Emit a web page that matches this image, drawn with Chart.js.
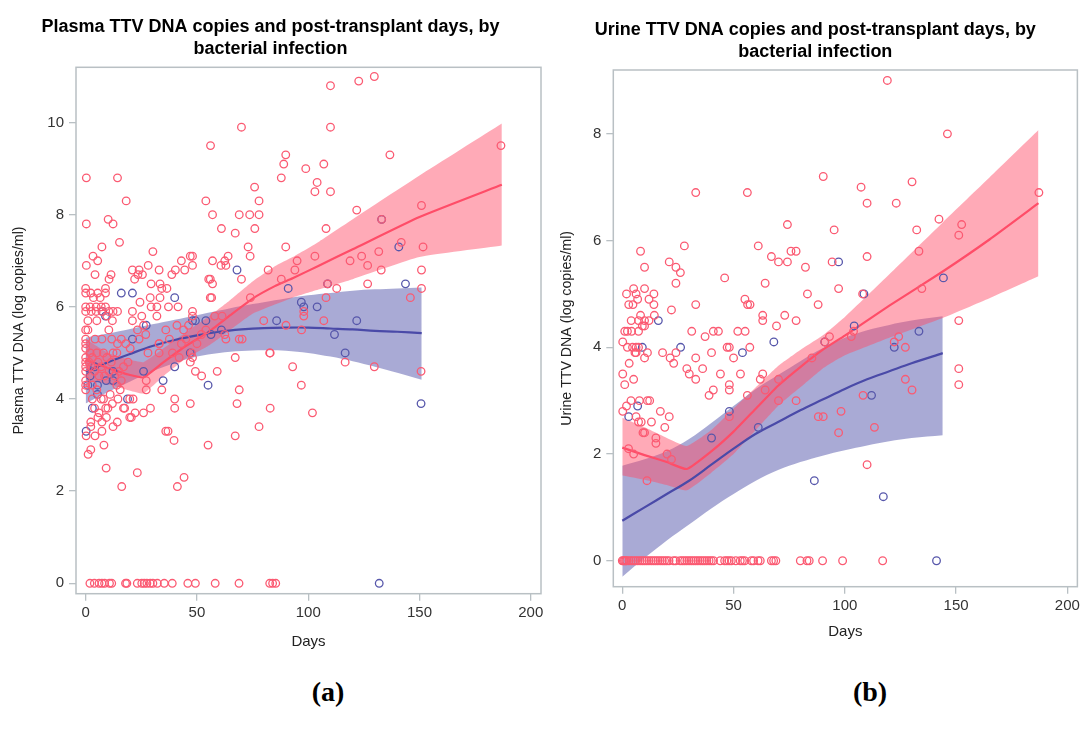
<!DOCTYPE html>
<html>
<head>
<meta charset="utf-8">
<script src="https://cdn.jsdelivr.net/npm/chart.js@4.4.1/dist/chart.umd.min.js"></script>
<style>
  html, body { margin: 0; padding: 0; background: #fff; }
  body { width: 1083px; height: 731px; position: relative; overflow: hidden; }
  canvas { position: absolute; top: 0; }
  #cA { left: 0; }
  #cB { left: 553px; }
  .lab { position: absolute; font-family: "Liberation Serif", "Times New Roman", serif; font-weight: bold; font-size: 28px; color: #000; transform: translate(-50%, -50%); top: 692px; }
</style>
</head>
<body>
<canvas id="cA" width="548" height="660"></canvas>
<canvas id="cB" width="530" height="660"></canvas>
<div class="lab" style="left:328px">(a)</div>
<div class="lab" style="left:870px">(b)</div>
<script>
// ---------------- DATA ----------------
const xTickValues = [0, 50, 100, 150, 200];
const plasmaYTicks = [0, 2, 4, 6, 8, 10];
const urineYTicks = [0, 2, 4, 6, 8];

// Plasma: no bacterial infection (red) [days, log copies/ml]
const plasmaNoInfection = [
  [0.3,8.8],[0.3,7.8],[14.3,8.8],[18.2,8.3],[10.1,7.9],[12.3,7.8],[15.2,7.4],[7.3,7.3],[3.3,7.1],[5.4,7.0],
  [0.3,6.9],[4.2,6.7],[11.4,6.7],[10.5,6.6],[0,6.4],[0,6.3],[2.3,6.3],[5.4,6.3],[8.9,6.3],[8.9,6.4],[6.5,6.2],[3.5,6.2],
  [0,6.0],[2,6.0],[4.7,6.0],[7,6.0],[8.9,6.0],
  [0,5.9],[2.5,5.9],[4.7,5.9],[7.3,5.9],[10.4,5.9],[12.3,5.9],[14.3,5.9],
  [1,5.7],[5,5.7],[9.5,5.8],[12,5.7],[0,5.5],[1,5.5],[10.4,5.5],
  [0,5.3],[0,5.2],[4.2,5.3],[7.3,5.3],[11.7,5.3],[14.3,5.2],[12.3,5.0],[14,5.0],
  [0,5.1],[2,5.0],[5,5.0],[8,5.0],
  [0,4.9],[0,4.8],[0,4.7],[0,4.6],[0,4.4],[0,4.3],[0,4.2],[1.5,4.8],[2.5,4.7],[3,4.9],[4,4.6],[5.5,4.8],[6,4.5],[7,4.7],
  [8.5,4.5],[9.5,4.9],[10.5,4.6],[11.5,4.8],[13,4.5],[14,4.3],[15,4.6],[16,4.4],[17,4.7],[19,4.8],[3,4.3],[5,4.2],
  [7,4.0],[8,4.0],[11,4.1],[12,3.9],[14.5,4.0],[15.5,4.2],[9,3.8],[10,3.8],[4,3.8],[5.5,3.6],[6,3.7],[3,4.0],
  [29.1,3.8],[26,3.7],[22.2,3.7],[19.8,3.6],[20.5,3.6],[19.8,4.0],[21.3,4.0],[17,3.8],[17.5,3.8],[14.2,3.5],[12.3,3.4],
  [9.3,3.6],[7.3,3.5],[7.3,3.3],[4.2,3.2],[2.3,3.5],[2.3,3.4],[0.2,3.2],[2.3,2.9],[1.1,2.8],[8.2,3.0],[9.2,2.5],
  [16.2,2.1],[23.2,2.4],[44.2,2.3],[41.2,2.1],[55,3.0],[67.2,3.2],[77.9,3.4],[68,3.9],[69,4.2],[67.2,4.9],[82.9,3.8],
  [82.9,5.0],[93,4.7],[96.9,4.3],[101.9,3.7],[116.6,4.8],[129.7,4.7],[150.7,4.6],[49.3,4.6],[52.1,4.5],[59.1,4.6],
  [47,3.9],[40,4.0],[40,3.8],[39.7,3.1],[36,3.3],[37,3.3],[34.2,4.2],[27.2,4.2],[27.2,4.4],[33,5.0],[33,5.2],
  [47,4.8],[47.5,5.0],[48,4.9],[39,5.0],[42,4.9],[45,5.3],
  [30.2,7.2],[28.1,6.9],[21,6.8],[24,6.8],[25.5,6.7],[23.5,6.7],[22,6.6],[29.4,6.5],[33,6.8],[33.4,6.5],[34.2,6.4],
  [36.5,6.4],[38.7,6.7],[40.3,6.8],[43,7.0],[47,7.1],[48,7.1],[48,6.9],[44.5,6.8],[54,8.3],[56.1,9.5],[57,8.0],
  [56,6.6],[55.3,6.6],[57,6.5],[57,7.0],[56,6.2],[56.6,6.2],[61,7.7],[60.8,6.9],[62.5,7.0],[63,6.9],[64,7.1],
  [67.2,7.6],[70,9.9],[69,8.0],[73.7,8.0],[75.9,8.6],[77.9,8.3],[77.9,8.0],[76,7.7],[73,7.3],[73.9,7.1],[70,6.6],
  [82,6.8],[74,6.2],[87.9,8.8],[89,9.1],[89.9,9.3],[89.9,7.3],[87.9,6.6],[94,6.8],[95,7.0],[98.9,9.0],[103,8.5],
  [104,8.7],[107,9.1],[110,10.8],[110,9.9],[110,8.5],[108,7.7],[103,7.1],[108,6.2],[108.7,6.5],[112.8,6.4],
  [122.7,10.9],[129.7,11.0],[121.8,8.1],[136.7,9.3],[118.8,7.0],[124,7.1],[126.7,6.9],[126.7,6.5],[131.7,7.2],
  [132.8,6.8],[133,7.9],[141.8,7.4],[150.9,8.2],[151.6,7.3],[150.9,6.8],[150.9,6.4],[145.9,6.2],[186.6,9.5],
  [80,5.7],[107,5.7],[97,5.5],[98,5.9],[98,5.8],[90,5.6],[82.7,5.0],[61.3,5.8],[62.5,5.4],[63,5.3],[69,5.3],[70.3,5.3],
  [21,5.9],[24.4,6.1],[25.2,5.8],[29,6.2],[33.4,6.2],[29.4,6.0],[32,6.0],[37.2,6.0],[41.5,6.0],[32,5.8],[21,5.7],
  [23.3,5.5],[41,5.6],[37.6,5.3],[33,5.2],[27,5.4],[48,5.9],[48,5.8],[46.2,5.6],[52,5.4],[18,5.2],[16,5.3],[20,5.1],
  [24,5.3],[26,5.6],[28,5.0],[36,5.5],[43,5.2],[44,5.5],[50,5.2],[54,5.5],[58,5.8],
  [1.9,0],[3.9,0],[6,0],[7.3,0],[8.5,0],[10.7,0],[11.7,0],[17.9,0],[18.5,0],[23.2,0],[25.2,0],[26.3,0],[27.5,0],
  [29,0],[30.2,0],[32.2,0],[35.3,0],[38.9,0],[45.9,0],[49.3,0],[58.2,0],[68.9,0],[82.7,0],[84,0],[85.4,0]
];
// Plasma: bacterial infection (blue)
const plasmaInfection = [
  [0.2,3.3],[3,3.8],[5.3,4.3],[5.3,4.1],[9.2,4.4],[12.3,4.4],[12.3,4.6],[18.8,4.0],[26,4.6],[34.8,4.4],[40,4.7],
  [47,5.0],[55,4.3],[150.7,3.9],[116.6,5.0],[131.9,0],[16,6.3],[21,6.3],[40,6.2],[27.2,5.6],[48,5.7],[49.3,5.7],
  [54,5.7],[61,5.5],[56.3,5.4],[21,5.3],[8.9,5.8],[7.6,5.9],[68,6.8],[91,6.4],[96.9,6.1],[98,6.0],[104,6.0],
  [85.8,5.7],[121.8,5.7],[111.8,5.4],[108.7,6.5],[133,7.9],[140.7,7.3],[143.7,6.5],[2,4.5],[4,4.7],[1,4.3]
];
// Plasma fitted curves
const plasmaRedDays  = [0, 10, 20, 26, 35, 45, 55, 65, 75, 85, 93, 105, 120, 150, 187];
const plasmaRedFit   = [4.85, 4.67, 4.52, 4.47, 4.8, 5.15, 5.45, 5.82, 6.18, 6.45, 6.62, 6.9, 7.25, 7.95, 8.65];
const plasmaRedUpper = [5.3, 5.0, 4.85, 4.8, 5.1, 5.45, 5.78, 6.15, 6.55, 6.88, 7.08, 7.42, 7.9, 8.85, 9.98];
const plasmaRedLower = [4.4, 4.32, 4.18, 4.12, 4.5, 4.88, 5.15, 5.5, 5.85, 6.05, 6.2, 6.38, 6.6, 7.08, 7.33];
const plasmaBlueDays  = [0, 10, 20, 30, 40, 50, 60, 70, 80, 90, 100, 110, 120, 130, 140, 151];
const plasmaBlueFit   = [4.6, 4.8, 4.98, 5.15, 5.28, 5.38, 5.46, 5.51, 5.54, 5.55, 5.55, 5.53, 5.51, 5.48, 5.46, 5.43];
const plasmaBlueUpper = [5.33, 5.42, 5.52, 5.62, 5.72, 5.82, 5.92, 6.02, 6.1, 6.18, 6.25, 6.3, 6.35, 6.38, 6.4, 6.42];
const plasmaBlueLower = [3.9, 4.15, 4.38, 4.6, 4.78, 4.92, 5.0, 5.04, 5.06, 5.05, 5.0, 4.92, 4.82, 4.7, 4.57, 4.42];

// Urine: no bacterial infection (red)
const urineNoInfection = [
  [119.1,9.0],[146.1,8.0],[90.3,7.2],[130.2,7.1],[107.3,7.0],[33.0,6.9],[56.2,6.9],[187.2,6.9],[110.0,6.7],[123.1,6.7],
  [74.2,6.3],[152.5,6.3],[142.3,6.4],[95.2,6.2],[132.3,6.2],[151.2,6.1],[8.2,5.8],[27.9,5.9],[61.1,5.9],[75.8,5.8],
  [78.1,5.8],[133.3,5.8],[10.0,5.5],[21.1,5.6],[24.1,5.5],[26.1,5.4],[24.1,5.2],[46.0,5.3],[67.0,5.7],[70.2,5.6],
  [74.2,5.6],[82.3,5.5],[94.3,5.6],[110.0,5.7],[97.2,5.1],[64.2,5.2],[83.2,5.0],[88.0,4.8],[108.0,5.0],[134.6,5.1],
  [1.9,5.0],[5.1,5.1],[6.2,5.0],[10.0,5.1],[14.2,5.0],[2.9,4.8],[4.8,4.8],[6.9,4.9],[12.0,4.9],[14.2,4.8],[8.2,4.6],
  [10.0,4.5],[14.4,4.6],[4.0,4.5],[7.3,4.5],[12.0,4.5],[22.1,4.7],[33.0,4.8],[31.2,4.3],[37.2,4.2],[40.9,4.3],
  [43.2,4.3],[51.9,4.3],[55.2,4.3],[55.1,4.9],[56.3,4.8],[57.4,4.8],[63.1,4.5],[63.1,4.6],[69.3,4.4],[73.0,4.6],
  [78.1,4.5],[151.2,4.5],[124.2,4.2],[93.1,4.2],
  [0.2,4.1],[2.3,4.0],[4.6,4.0],[6.2,4.0],[7.3,4.0],[1.1,4.3],[2.3,4.3],[4.2,4.3],[7.3,4.3],[10.0,4.4],[9.0,4.4],
  [3.1,3.7],[5.7,3.9],[6.2,3.9],[11.3,3.9],[10.0,3.8],[0.2,3.5],[5.1,3.4],[1.1,3.3],[0.2,2.8],[1.9,2.9],[3.9,3.0],
  [7.7,3.0],[11.3,3.0],[12.3,3.0],[6.2,2.7],[7.3,2.6],[8.5,2.6],[9.3,2.4],[10.0,2.4],[13.1,2.6],[15.1,2.3],[15.1,2.2],
  [17.1,2.8],[21.1,2.7],[19.1,2.5],[2.8,2.1],[5.1,2.0],[20.1,2.0],[22.1,1.9],[11.1,1.5],[18.1,3.9],[21.5,3.8],
  [23.1,3.7],[24.1,3.9],[29.0,3.6],[30.1,3.5],[33.0,3.8],[33.0,3.4],[36.1,3.6],[40.1,3.9],[39.0,3.1],[40.9,3.2],
  [44.1,3.5],[47.1,4.0],[48.1,4.0],[48.1,3.3],[48.1,3.2],[48.1,2.7],[50.0,3.8],[53.1,3.5],[57.3,4.0],[56.2,3.1],
  [62.0,3.4],[63.1,3.5],[64.2,3.2],[70.2,3.4],[70.2,3.0],[78.1,3.0],[85.2,3.8],[88.1,2.7],[90.3,2.7],[91.0,4.1],
  [98.3,2.8],[97.2,2.4],[102.9,4.2],[103.9,4.3],[108.2,3.1],[113.3,2.5],[110.0,1.8],[122.2,4.1],[127.2,4.0],
  [127.2,3.4],[130.2,3.2],[151.2,3.6],[151.2,3.3],
  [0,0],[0.5,0],[1,0],[1.5,0],[2,0],[3,0],[4,0],[5,0],[6,0],[7,0],[8,0],[9,0],[10,0],[11,0],[12,0],[13,0],[14,0],
  [15,0],[16,0],[17,0],[18,0],[19,0],[20,0],[21,0],[23,0],[24,0],[26,0],[27,0],[28,0],[29,0],[30,0],[31,0],[32,0],
  [33,0],[34,0],[35,0],[36,0],[37,0],[38,0],[39,0],[40,0],[41,0],[44,0],[46,0],[47,0],[48,0],[49,0],[51,0],[53,0],
  [54,0],[55,0],[58,0],[59,0],[61,0],[62,0],[67,0],[68,0],[69,0],[80,0],[83,0],[84,0],[90,0],[99,0],[117,0]
];
// Urine: bacterial infection (blue)
const urineInfection = [
  [16.2,4.5],[97.2,5.6],[108.6,5.0],[144.3,5.3],[68.1,4.1],[104.2,4.4],[133.3,4.3],[9.0,4.0],[26.2,4.0],[2.9,2.7],
  [6.9,2.9],[48.1,2.8],[54.0,3.9],[61.1,2.5],[86.3,1.5],[91.0,4.1],[112.0,3.1],[117.3,1.2],[122.2,4.0],[141.2,0],
  [40.1,2.3]
];
// Urine fitted curves
const urineRedDays  = [0, 10, 20, 29, 40, 50, 60, 70, 80, 90, 100, 120, 144, 165, 187];
const urineRedFit   = [2.12, 1.98, 1.85, 1.72, 2.05, 2.42, 2.85, 3.28, 3.63, 3.95, 4.22, 4.78, 5.42, 6.02, 6.7];
const urineRedUpper = [2.68, 2.5, 2.3, 2.15, 2.45, 2.85, 3.25, 3.65, 3.95, 4.22, 4.57, 5.37, 6.34, 7.18, 8.07];
const urineRedLower = [1.6, 1.52, 1.42, 1.32, 1.65, 2.0, 2.45, 2.9, 3.25, 3.6, 3.85, 4.18, 4.55, 4.92, 5.33];
const urineBlueDays  = [0, 10, 20, 30, 40, 50, 60, 70, 80, 90, 100, 110, 120, 130, 144];
const urineBlueFit   = [0.75, 1.0, 1.25, 1.5, 1.8, 2.1, 2.38, 2.6, 2.82, 3.02, 3.22, 3.4, 3.55, 3.7, 3.89];
const urineBlueUpper = [1.78, 1.9, 2.05, 2.28, 2.58, 2.9, 3.22, 3.48, 3.74, 3.98, 4.18, 4.32, 4.42, 4.5, 4.58];
const urineBlueLower = [-0.3, 0.05, 0.38, 0.68, 0.98, 1.25, 1.5, 1.7, 1.85, 1.97, 2.07, 2.16, 2.24, 2.3, 2.35];

// ---------------- STYLE ----------------
const RED = '#fb5a72', BLUE = '#5757ab';
const RED_LINE = '#ff4d68', BLUE_LINE = '#4a4aa8';
const RED_BAND = 'rgba(255,78,104,0.48)', BLUE_BAND = 'rgba(84,86,172,0.50)';
const FRAME = '#b9c0c4';
Chart.defaults.font.family = '"Liberation Sans", Arial, sans-serif';
Chart.defaults.animation = false;

const toXY = pts => pts.map(p => ({x: p[0], y: p[1]}));
const zipXY = (xs, ys) => xs.map((x, i) => ({x, y: ys[i]}));

const framePlugin = {
  id: 'frame',
  beforeDatasetsDraw(chart) {
    const a = chart.chartArea, ctx = chart.ctx;
    ctx.save();
    ctx.strokeStyle = FRAME;
    ctx.lineWidth = 1.5;
    ctx.strokeRect(a.left, a.top, a.right - a.left, a.bottom - a.top);
    ctx.restore();
  }
};

function makeChart(id, cfg) {
  const pointDs = (label, pts, color) => ({
    label, data: toXY(pts), type: 'scatter', showLine: false,
    pointStyle: 'circle', pointRadius: 3.8, pointBorderWidth: 1.3,
    borderColor: color, backgroundColor: 'rgba(0,0,0,0)', pointBackgroundColor: 'rgba(0,0,0,0)'
  });
  const lineDs = (label, xs, ys, color, tension) => ({
    label, data: zipXY(xs, ys), type: 'line', borderColor: color, borderWidth: 2.2,
    pointRadius: 0, fill: false, tension
  });
  const bandDs = (label, xs, ys, color, tension, fill) => ({
    label, data: zipXY(xs, ys), type: 'line', borderWidth: 0, borderColor: 'rgba(0,0,0,0)',
    backgroundColor: color, pointRadius: 0, fill, tension
  });
  const datasets = [
    pointDs('No bacterial infection', cfg.red, RED),
    pointDs('Bacterial infection', cfg.blue, BLUE),
    lineDs('Fit: no infection', cfg.rDays, cfg.rFit, RED_LINE, 0.15),
    lineDs('Fit: infection', cfg.bDays, cfg.bFit, BLUE_LINE, 0.35),
    bandDs('CI upper: no infection', cfg.rDays, cfg.rUp, RED_BAND, 0.15, '+1'),
    bandDs('CI lower: no infection', cfg.rDays, cfg.rLo, RED_BAND, 0.15, false),
    bandDs('CI upper: infection', cfg.bDays, cfg.bUp, BLUE_BAND, 0.35, '+1'),
    bandDs('CI lower: infection', cfg.bDays, cfg.bLo, BLUE_BAND, 0.35, false)
  ];
  const tickFont = {size: 15};
  return new Chart(document.getElementById(id), {
    type: 'scatter',
    data: { datasets },
    options: {
      responsive: false,
      animation: false,
      layout: { padding: cfg.pad },
      plugins: {
        legend: { display: false },
        tooltip: { enabled: false },
        title: {
          display: true, text: cfg.title, color: '#000',
          font: { size: 18, weight: 'bold', lineHeight: 1.2 },
          padding: cfg.titlePad
        }
      },
      scales: {
        x: {
          type: 'linear', min: cfg.xMin, max: cfg.xMax,
          afterBuildTicks: s => { s.ticks = xTickValues.map(v => ({value: v})); },
          afterFit: s => { s.height = 60; },
          grid: { display: true, drawOnChartArea: false, drawTicks: true, tickLength: 7, color: FRAME, lineWidth: 1.3 },
          border: { display: false },
          ticks: { font: tickFont, color: '#333', padding: 3, maxRotation: 0 },
          title: { display: true, text: 'Days', color: '#222', font: {size: 15, lineHeight: 1.2}, padding: {top: 0, bottom: cfg.xTitleBottom} }
        },
        y: {
          type: 'linear', min: cfg.yMin, max: cfg.yMax,
          afterBuildTicks: s => { s.ticks = cfg.yTicks.map(v => ({value: v})); },
          afterFit: s => { s.width = cfg.yWidth; },
          grid: { display: true, drawOnChartArea: false, drawTicks: true, tickLength: 7, color: FRAME, lineWidth: 1.3 },
          border: { display: false },
          ticks: { font: tickFont, color: '#333', padding: 5 },
          title: { display: true, text: cfg.yTitle, color: '#222', font: {size: 14.2, lineHeight: 1.2}, padding: {top: cfg.yTitleTop, bottom: 0} }
        }
      }
    },
    plugins: [framePlugin]
  });
}

makeChart('cA', {
  title: ['Plasma TTV DNA copies and post-transplant days, by', 'bacterial infection'],
  titlePad: {top: 16.2, bottom: 7.9},
  pad: {left: 0, right: 7, top: 0, bottom: 6.3},
  yWidth: 76, yTitleTop: 11, xTitleBottom: 2.7,
  xMin: -4.35, xMax: 204.6, yMin: -0.226, yMax: 11.2, yTicks: plasmaYTicks,
  yTitle: 'Plasma TTV DNA (log copies/ml)',
  red: plasmaNoInfection, blue: plasmaInfection,
  rDays: plasmaRedDays, rFit: plasmaRedFit, rUp: plasmaRedUpper, rLo: plasmaRedLower,
  bDays: plasmaBlueDays, bFit: plasmaBlueFit, bUp: plasmaBlueUpper, bLo: plasmaBlueLower
});

makeChart('cB', {
  title: ['Urine TTV DNA copies and post-transplant days, by', 'bacterial infection'],
  titlePad: {top: 19.7, bottom: 7.1},
  pad: {left: 0, right: 5.3, top: 0, bottom: 13.3},
  yWidth: 60.3, yTitleTop: 5.5, xTitleBottom: 5.7,
  xMin: -4.04, xMax: 204.5, yMin: -0.486, yMax: 9.196, yTicks: urineYTicks,
  yTitle: 'Urine TTV DNA (log copies/ml)',
  red: urineNoInfection, blue: urineInfection,
  rDays: urineRedDays, rFit: urineRedFit, rUp: urineRedUpper, rLo: urineRedLower,
  bDays: urineBlueDays, bFit: urineBlueFit, bUp: urineBlueUpper, bLo: urineBlueLower
});
</script>
</body>
</html>
